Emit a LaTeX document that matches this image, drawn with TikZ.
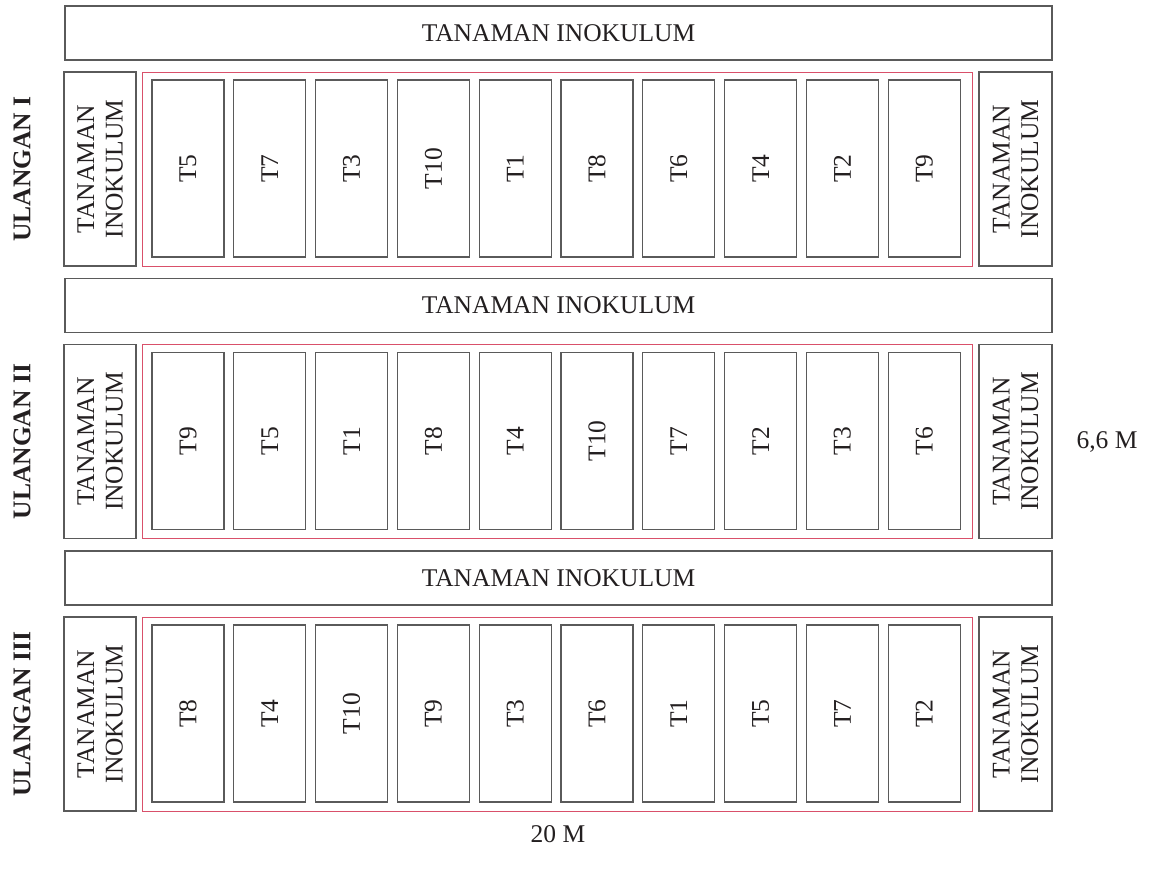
\documentclass[tikz,border=0pt]{standalone}
\usepackage{fontspec}
\setmainfont{Liberation Serif}
\definecolor{boxgray}{HTML}{5A5A5A}
\definecolor{plotred}{HTML}{D9506A}
\definecolor{ink}{HTML}{231F20}
\tikzset{
  box/.style={draw=boxgray, line width=1.3pt, inner sep=0pt, text=ink,
    font=\fontsize{25.5}{28.5}\selectfont, align=center},
  redbox/.style={draw=plotred, line width=1pt, inner sep=0pt},
  lbl/.style={text=ink, inner sep=0pt, align=center, font=\fontsize{25.5}{28.5}\selectfont},
  rowlbl/.style={text=ink, inner sep=0pt, rotate=90, font=\fontsize{25.5}{28.5}\selectfont\bfseries},
}
\begin{document}
\begin{tikzpicture}[x=1pt,y=-1pt]
\useasboundingbox (0,0) rectangle (1153,876);
\foreach \r/\rn/\labs in {0/I/{T5,T7,T3,T10,T1,T8,T6,T4,T2,T9},
                          1/II/{T9,T5,T1,T8,T4,T10,T7,T2,T3,T6},
                          2/III/{T8,T4,T10,T9,T3,T6,T1,T5,T7,T2}}{
  \pgfmathsetmacro{\dy}{272.5*\r}
  \node[box, minimum width=987, minimum height=54] (ban-\r) at (558.5,33+\dy) {TANAMAN INOKULUM};
  \node[box, minimum width=72, minimum height=194] (left-\r) at (100,169+\dy) {};
  \node[lbl, rotate=90] (leftt-\r) at (left-\r.center) {TANAMAN\\INOKULUM};
  \node[redbox, minimum width=830, minimum height=194] (red-\r) at (557,169+\dy) {};
  \node[box, minimum width=73, minimum height=194] (right-\r) at (1015.5,169+\dy) {};
  \node[lbl, rotate=90] (rightt-\r) at (right-\r.center) {TANAMAN\\INOKULUM};
  \foreach \t [count=\i from 0] in \labs {
    \node[box, minimum width=72, minimum height=177] (p-\r-\i) at (188+81.8*\i,168.5+\dy) {};
    \node[lbl, rotate=90] (pt-\r-\i) at (p-\r-\i.center) {\t};
  }
  \node[rowlbl] (ul-\r) at (22,169+\dy) {ULANGAN \rn};
}
\node[lbl] (w66) at (1107,442) {6,6 M};
\node[lbl] (w20) at (558,834) {20 M};
\end{tikzpicture}
\end{document}
